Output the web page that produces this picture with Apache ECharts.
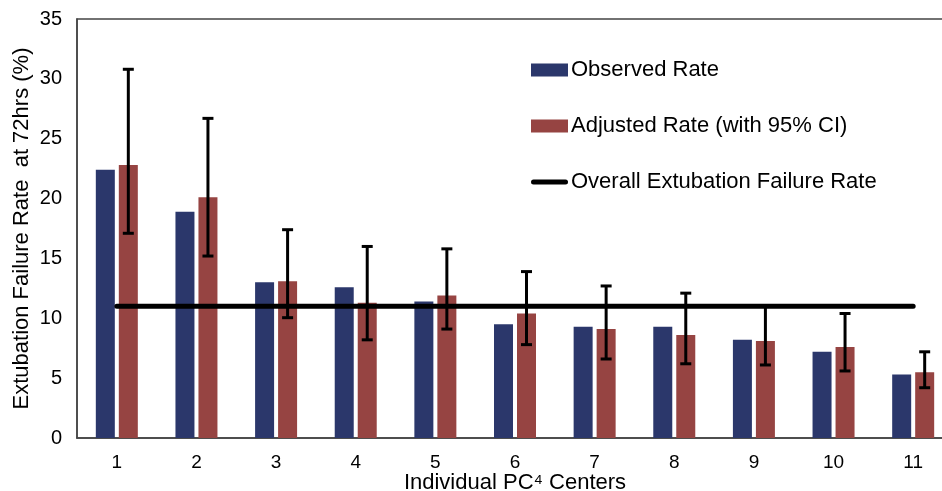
<!DOCTYPE html>
<html>
<head>
<meta charset="utf-8">
<script src="https://cdn.jsdelivr.net/npm/echarts@6/dist/echarts.min.js"></script>
<style>
  html, body { margin: 0; padding: 0; background: #fff; }
  #failChart { width: 942px; height: 491px; }
</style>
</head>
<body>
<div id="failChart"></div>
<script>
// 数据
var centers = ["1", "2", "3", "4", "5", "6", "7", "8", "9", "10", "11"];
var observedRate = [22.4, 18.9, 13.0, 12.6, 11.4, 9.5, 9.3, 9.3, 8.2, 7.2, 5.3];
var adjustedRate = [22.8, 20.1, 13.1, 11.3, 11.9, 10.4, 9.1, 8.6, 8.1, 7.6, 5.5];
var ciLow = [17.1, 15.2, 10.05, 8.2, 9.1, 7.8, 6.6, 6.2, 6.1, 5.6, 4.2];
var ciHigh = [30.8, 26.7, 17.4, 16.0, 15.8, 13.9, 12.7, 12.1, 11.0, 10.4, 7.2];
var overallRate = [11, 11, 11, 11, 11, 11, 11, 11, 11, 11, 11];
var yTicks = [0, 5, 10, 15, 20, 25, 30, 35];

var font = "Liberation Sans, Arial, sans-serif";
var barW = 19;
var barGapPx = 4;

let failChart = echarts.init(document.getElementById("failChart"));

let option = {
  animation: false,
  textStyle: { fontFamily: font, color: "#000" },
  grid: {
    left: 77,
    top: 19,
    width: 876,
    height: 419,
    outerBoundsMode: "none",
    containLabel: false,
    show: true,
    borderColor: "#444",
    borderWidth: 1.5,
  },
  legend: {
    orient: "vertical",
    left: 531,
    top: 59,
    padding: 0,
    itemWidth: 37,
    itemHeight: 13,
    itemGap: 34,
    textStyle: { fontSize: 22, fontFamily: font, color: "#000", padding: [0, 0, 0, -2] },
    data: [
      { name: "Observed Rate", icon: "rect" },
      { name: "Adjusted Rate (with 95% CI)", icon: "rect" },
      {
        name: "Overall Extubation Failure Rate",
        icon: "path://M2.5,0 L34.5,0 A2.5,2.5 0 0 1 34.5,5 L2.5,5 A2.5,2.5 0 0 1 2.5,0 Z",
      },
    ],
  },
  xAxis: {
    type: "category",
    data: centers,
    name: "Individual PC\u2074 Centers",
    nameLocation: "middle",
    nameMoveOverlap: false,
    nameGap: 34,
    nameTextStyle: { fontSize: 22, color: "#000" },
    axisLine: { lineStyle: { color: "#444", width: 1.5 } },
    axisTick: { show: false },
    axisLabel: { fontSize: 19, color: "#000", margin: 15 },
  },
  yAxis: {
    type: "value",
    min: yTicks[0],
    max: yTicks[yTicks.length - 1],
    interval: 5,
    name: "Extubation Failure Rate  at 72hrs (%)",
    nameLocation: "middle",
    nameMoveOverlap: false,
    nameGap: 44,
    nameTextStyle: { fontSize: 22, color: "#000" },
    axisLine: { show: true, lineStyle: { color: "#444", width: 1.5 } },
    axisTick: { show: false },
    splitLine: { show: false },
    axisLabel: { fontSize: 20, color: "#000", margin: 15 },
  },
  series: [
    {
      name: "Observed Rate",
      type: "bar",
      data: observedRate,
      barWidth: barW,
      barGap: (barGapPx / barW) * 100 + "%",
      itemStyle: { color: "#2B376B" },
      z: 2,
    },
    {
      name: "Adjusted Rate (with 95% CI)",
      type: "bar",
      data: adjustedRate,
      barWidth: barW,
      itemStyle: { color: "#964442" },
      z: 2,
    },
    {
      name: "Overall Extubation Failure Rate",
      type: "line",
      data: overallRate,
      symbol: "none",
      itemStyle: { color: "#000" },
      lineStyle: { color: "#000", width: 5, cap: "round" },
      z: 4,
    },
    {
      name: "ci",
      type: "custom",
      data: centers.map(function (c, i) {
        return [i, ciLow[i], ciHigh[i]];
      }),
      renderItem: function (params, api) {
        let i = api.value(0);
        let lo = api.coord([i, api.value(1)]);
        let hi = api.coord([i, api.value(2)]);
        let x = lo[0] + barGapPx / 2 + barW / 2;
        let cap = 5.5;
        let st = { stroke: "#000", lineWidth: 3 };
        return {
          type: "group",
          children: [
            { type: "line", shape: { x1: x, y1: lo[1], x2: x, y2: hi[1] }, style: st },
            { type: "line", shape: { x1: x - cap, y1: lo[1], x2: x + cap, y2: lo[1] }, style: st },
            { type: "line", shape: { x1: x - cap, y1: hi[1], x2: x + cap, y2: hi[1] }, style: st },
          ],
        };
      },
      z: 3,
    },
  ],
};
failChart.setOption(option);
</script>
</body>
</html>
